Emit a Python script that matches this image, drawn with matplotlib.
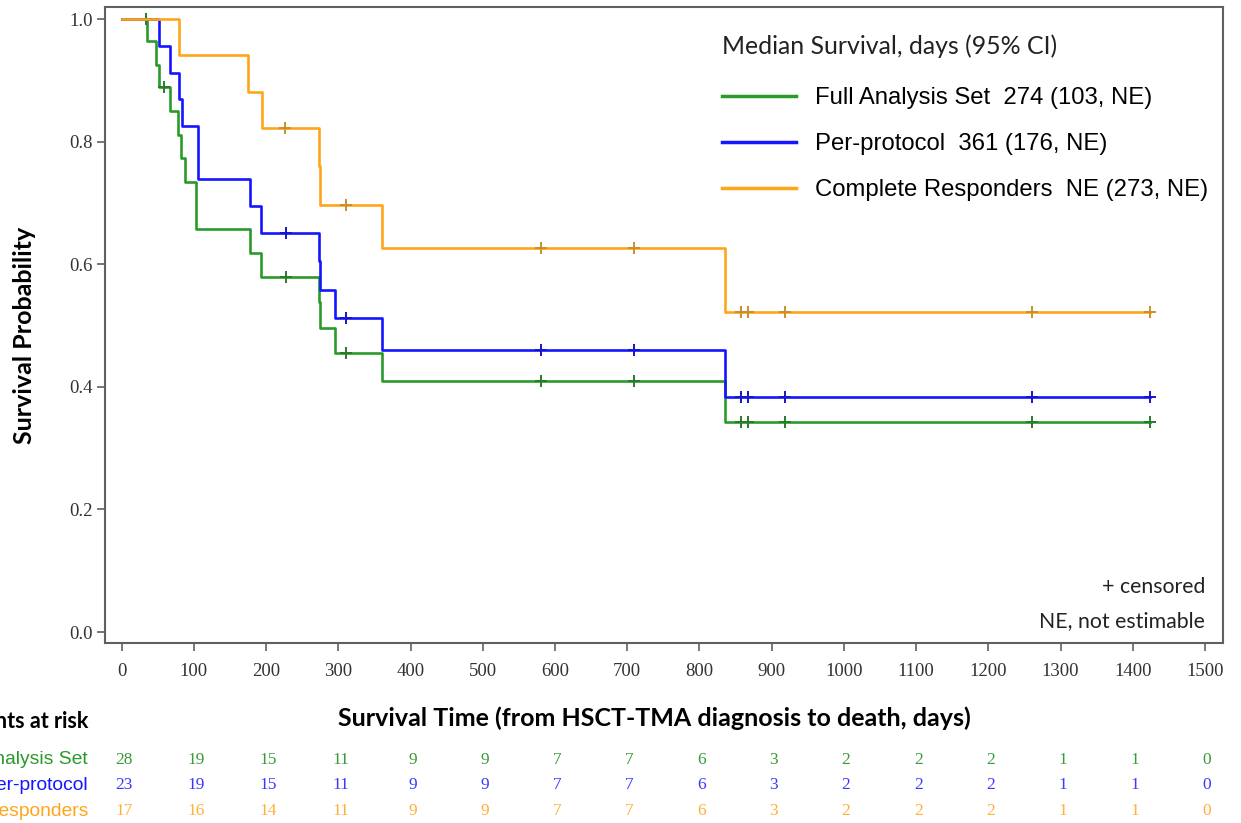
import numpy as np
import matplotlib
matplotlib.use('Agg')
import matplotlib.pyplot as plt
from matplotlib import transforms

# Kaplan-Meier steps (days, survival probability)
fas_times = [0, 35, 48, 51, 67, 78, 82, 87, 103, 177, 193, 273, 274, 295, 361, 835, 1424]
fas_surv = [1.0, 0.964, 0.926, 0.889, 0.850, 0.811, 0.773, 0.734, 0.657, 0.618, 0.580,
            0.538, 0.497, 0.456, 0.410, 0.342, 0.342]
fas_cens = [33, 58, 227, 310, 580, 709, 857, 867, 918, 1261, 1424]

pp_times = [0, 51, 67, 80, 83, 105, 177, 193, 273, 274, 295, 361, 835, 1424]
pp_surv = [1.0, 0.957, 0.913, 0.870, 0.826, 0.739, 0.696, 0.652, 0.606, 0.559, 0.512,
           0.461, 0.384, 0.384]
pp_cens = [227, 310, 580, 709, 857, 867, 918, 1261, 1424]

cr_times = [0, 80, 175, 194, 273, 274, 361, 835, 1424]
cr_surv = [1.0, 0.941, 0.882, 0.823, 0.760, 0.697, 0.627, 0.522, 0.522]
cr_cens = [226, 310, 580, 709, 857, 867, 918, 1261, 1424]

labels = ['Full Analysis Set  274 (103, NE)', 'Per-protocol  361 (176, NE)',
          'Complete Responders  NE (273, NE)']
row_names = ['Full Analysis Set', 'Per-protocol', 'Complete Responders']

risk_days = list(range(0, 1600, 100))
fas_risk = [28, 19, 15, 11, 9, 9, 7, 7, 6, 3, 2, 2, 2, 1, 1, 0]
pp_risk = [23, 19, 15, 11, 9, 9, 7, 7, 6, 3, 2, 2, 2, 1, 1, 0]
cr_risk = [17, 16, 14, 11, 9, 9, 7, 7, 6, 3, 2, 2, 2, 1, 1, 0]

line_colors = ['#2a9a2a', '#1515ff', '#ffa51a']
cens_colors = ['#2a7a2a', '#1515cc', '#c8902a']
risk_colors = ['#3a9a3a', '#3a3aff', '#ffb038']

fig = plt.figure(figsize=(12.41, 8.23), dpi=100)
ax = fig.add_axes([105 / 1241, 1 - 643.3 / 823, (1222.7 - 105) / 1241, (643.3 - 6.7) / 823])

groups = [(fas_times, fas_surv, fas_cens), (pp_times, pp_surv, pp_cens),
          (cr_times, cr_surv, cr_cens)]
for i, (t, s, c) in enumerate(groups):
    ax.step(t, s, where='post', color=line_colors[i], lw=1.9, label=labels[i], zorder=2 + i)
    idx = np.searchsorted(t, c, side='right') - 1
    cy = np.array(s)[idx]
    ax.plot(c, cy, ls='none', marker='+', ms=9, mew=1.4, color=cens_colors[i], zorder=2 + i)

ax.set_xlim(-23.1, 1524.5)
ax.set_ylim(-0.0184, 1.0206)
ax.set_xticks(range(0, 1600, 100))
ax.set_yticks([0.0, 0.2, 0.4, 0.6, 0.8, 1.0])
ax.set_yticklabels(['0.0', '0.2', '0.4', '0.6', '0.8', '1.0'])

for sp in ax.spines.values():
    sp.set_color('#606060')
    sp.set_linewidth(1.5)
ax.tick_params(axis='both', direction='out', length=6, width=1.2, color='#606060',
               labelcolor='#333333')
ax.tick_params(axis='x', pad=8)
ax.tick_params(axis='y', pad=3)
for lab in ax.get_xticklabels() + ax.get_yticklabels():
    lab.set_fontfamily('Liberation Serif')
    lab.set_fontsize(13.5)

leg = ax.legend(loc='upper left', bbox_to_anchor=(722 / 1241, 1 - 34 / 823),
                bbox_transform=fig.transFigure, frameon=False,
                title='Median Survival, days (95% CI)', alignment='left',
                prop={'family': 'Liberation Sans', 'size': 17.2},
                title_fontproperties={'family': 'Lato', 'size': 17.9},
                handlelength=3.1, handletextpad=0.8, labelspacing=1.0,
                borderpad=0, borderaxespad=0)
leg._legend_box.sep = 21.5  # extra gap between title and entries
leg.get_title().set_color('#222222')
for h in leg.get_lines():
    h.set_linewidth(2.5)

ax.text(1205 / 1241, 1 - 587 / 823, '+ censored', transform=fig.transFigure,
        ha='right', va='center', family='Lato', fontsize=15.3, color='#222222')
ax.text(1205 / 1241, 1 - 621 / 823, 'NE, not estimable', transform=fig.transFigure,
        ha='right', va='center', family='Lato', fontsize=15.3, color='#222222')

fig.text(654 / 1241, 1 - 718 / 823, 'Survival Time (from HSCT-TMA diagnosis to death, days)',
         ha='center', va='center', family='Lato', fontweight='bold', fontsize=18)
fig.text(25 / 1241, 1 - 335 / 823, 'Survival Probability', rotation=90,
         ha='center', va='center', family='Lato', fontweight='bold', fontsize=18)

# numbers at risk table below the axis
fig.text(88 / 1241, 1 - 722 / 823, 'Patients at risk', ha='right', va='center',
         family='Lato', fontweight='bold', fontsize=15.5)
trans = transforms.blended_transform_factory(ax.transData, fig.transFigure)
row_y = [760, 785, 811]
for i, counts in enumerate([fas_risk, pp_risk, cr_risk]):
    fig.text(88 / 1241, 1 - row_y[i] / 823, row_names[i], ha='right', va='center',
             family='Liberation Sans', fontsize=13.9, color=line_colors[i])
    for d, n in zip(risk_days, counts):
        ax.text(d + 3, 1 - row_y[i] / 823, str(n), transform=trans, ha='center', va='center',
                family='Liberation Serif', fontsize=12.5, color=risk_colors[i])

fig.savefig('out.png', dpi=100)
